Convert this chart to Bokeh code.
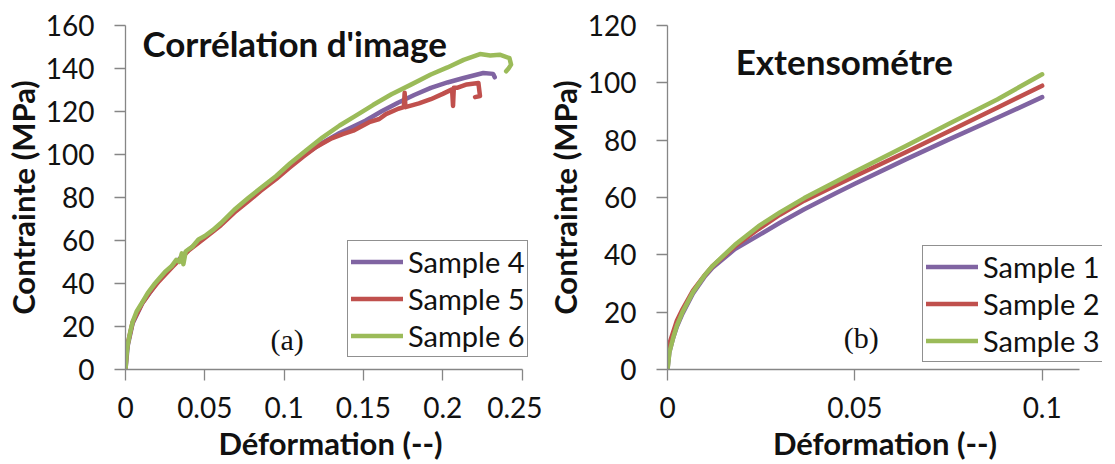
from bokeh.plotting import figure
from bokeh.models import Range1d, FixedTicker, Legend, LegendItem, Label
from bokeh.layouts import row
from bokeh.embed import file_html
from bokeh.resources import INLINE

# ---------------- data: panel (a) Corrélation d'image ----------------
s4_x = [0, 0.0014, 0.0045, 0.0107, 0.021, 0.03, 0.04, 0.05, 0.06, 0.0686, 0.077,
        0.0851, 0.095, 0.1037, 0.114, 0.1243, 0.135, 0.1512, 0.1618, 0.1718, 0.182,
        0.1925, 0.203, 0.2132, 0.2256, 0.2318, 0.2328]
s4_y = [0, 11, 21.5, 31, 41.5, 48.5, 55.8, 61.5, 67.5, 73.6, 78.8,
        83.6, 89.3, 95, 100.5, 105.5, 110, 115.7, 120.2, 124.1, 127.7,
        131, 133.5, 135.6, 137.9, 137.5, 135.9]

s5_x = [0, 0.0006, 0.0014, 0.0045, 0.0107, 0.015, 0.021, 0.03, 0.04, 0.05, 0.06,
        0.0686, 0.077, 0.0851, 0.095, 0.1037, 0.112, 0.1202, 0.13, 0.137, 0.1436,
        0.1542, 0.16, 0.1642, 0.172, 0.1755, 0.176, 0.1765, 0.185, 0.1925, 0.2,
        0.2059, 0.2065, 0.207, 0.209, 0.2152, 0.2225, 0.2235, 0.2204]
s5_y = [0, 8, 12, 22, 31, 35.5, 41, 48, 55.5, 61.2, 67,
        73, 78, 83, 88.6, 94, 99, 103.5, 107.5, 109.5, 111.1,
        115.2, 116.5, 118.8, 121.3, 122, 128.7, 122, 123.8, 125.7, 128.2,
        130.3, 122.6, 131, 131, 132.6, 133.3, 127.2, 126.7]

s6_x = [0, 0.0007, 0.0014, 0.003, 0.0045, 0.007, 0.0107, 0.014, 0.018, 0.021,
        0.025, 0.029, 0.032, 0.034, 0.0355, 0.0365, 0.038, 0.042, 0.046, 0.05,
        0.055, 0.06, 0.0686, 0.077, 0.0851, 0.095, 0.1037, 0.114, 0.1243, 0.135,
        0.145, 0.156, 0.1677, 0.18, 0.1925, 0.203, 0.2132, 0.2235, 0.23, 0.2359,
        0.2421, 0.2431, 0.2415, 0.24]
s6_y = [0, 7, 11.5, 17.5, 22.2, 27, 31.4, 35.5, 39.5, 42.1,
        45.5, 48, 51, 50, 54, 49, 55, 57, 60.5, 62.1,
        64.8, 68, 74.3, 79.5, 84.3, 90, 95.8, 102, 108, 113.5,
        118, 123, 128, 132.5, 137.2, 140.5, 144, 146.7, 146, 146.4,
        144.8, 141.8, 140, 138.7]

# ---------------- data: panel (b) Extensométre ----------------
ext_x = [0, 0.0005, 0.0015, 0.0025, 0.004, 0.0068, 0.01, 0.012, 0.018, 0.0243,
         0.03, 0.0365, 0.045, 0.05, 0.0636, 0.075, 0.088, 0.1]
s1_y = [0, 6, 11, 15, 19.5, 26.5, 32.5, 35.5, 42, 46.8,
        51.2, 55.9, 61.6, 64.8, 73.3, 80.2, 87.8, 95]
s2_y = [6, 9, 13, 17, 21, 27.5, 33, 36, 43, 49,
        54, 58.9, 64.3, 67.4, 75.8, 83, 91.3, 99]
s3_y = [0, 6, 11, 15.3, 20, 27, 33, 36.1, 43.5, 50,
        54.8, 59.8, 65.6, 69, 78, 85.6, 94.2, 103]

a_xticks = [0, 0.05, 0.1, 0.15, 0.2, 0.25]
a_xlabels = ["0", "0.05", "0.1", "0.15", "0.2", "0.25"]
a_yticks = [0, 20, 40, 60, 80, 100, 120, 140, 160]
b_xticks = [0, 0.05, 0.1]
b_xlabels = ["0", "0.05", "0.1"]
b_yticks = [0, 20, 40, 60, 80, 100, 120]

names_a = ["Sample 4", "Sample 5", "Sample 6"]
names_b = ["Sample 1", "Sample 2", "Sample 3"]
colors = ["#8064A2", "#C0504D", "#9BBB59"]

FONT = "Lato"
AX = "#868686"
TXT = "#111111"


def style(p, xticks, xlabels, yticks):
    p.xaxis.ticker = FixedTicker(ticks=xticks)
    p.xaxis.major_label_overrides = {t: l for t, l in zip(xticks, xlabels)}
    p.yaxis.ticker = FixedTicker(ticks=yticks)
    p.xgrid.visible = False
    p.ygrid.visible = False
    p.outline_line_color = None
    for ax in (p.xaxis, p.yaxis):
        ax.axis_line_color = AX
        ax.axis_line_width = 1.3
        ax.major_tick_line_color = AX
        ax.major_tick_line_width = 1.3
        ax.major_tick_out = 11
        ax.major_tick_in = 0
        ax.minor_tick_line_color = None
        ax.major_label_text_font = FONT
        ax.major_label_text_font_size = "28px"
        ax.major_label_text_color = TXT
        ax.axis_label_text_font = FONT
        ax.axis_label_text_font_style = "bold"
        ax.axis_label_text_font_size = "31px"
        ax.axis_label_text_color = TXT
    p.xaxis.major_label_standoff = 16
    p.yaxis.major_label_standoff = 20
    p.xaxis.axis_label_standoff = 3
    p.yaxis.axis_label_standoff = 1
    p.xaxis.axis_label = "Déformation (--)"
    p.yaxis.axis_label = "Contrainte (MPa)"


def make_legend(names, rends, loc):
    return Legend(items=[LegendItem(label=n, renderers=[r]) for n, r in zip(names, rends)],
                  location=loc, glyph_width=52, glyph_height=35, label_height=35,
                  spacing=2, padding=3, margin=0, label_standoff=5,
                  label_text_font=FONT, label_text_font_size="29px",
                  label_text_color=TXT,
                  border_line_color="#222222", border_line_width=1.5,
                  background_fill_color="white", background_fill_alpha=1)


# ---------------- panel (a) ----------------
pa = figure(width=542, height=464, output_backend="svg", toolbar_location=None,
            x_range=Range1d(0, 0.2585), y_range=Range1d(0, 160),
            min_border_left=118, min_border_right=7, min_border_top=22,
            min_border_bottom=94)
style(pa, a_xticks, a_xlabels, a_yticks)
pa.xaxis.bounds = (0, 0.25)
ra = []
for xs, ys, c in zip([s4_x, s5_x, s6_x], [s4_y, s5_y, s6_y], colors):
    ra.append(pa.line(xs, ys, line_color=c, line_width=4.5, line_join="round",
                      line_cap="round"))
pa.add_layout(make_legend(names_a, ra, (222, 12)), "center")
pa.add_layout(Label(x=0.0107, y=151.7, text="Corrélation d'image", text_font=FONT,
                    text_font_style="bold", text_font_size="35px",
                    text_color=TXT, text_baseline="alphabetic"))
pa.add_layout(Label(x=0.1019, y=13.8, text="(a)", text_font="Liberation Serif",
                    text_font_size="30px", text_color=TXT,
                    text_align="center", text_baseline="middle"))

# ---------------- panel (b) ----------------
pb = figure(width=560, height=464, output_backend="svg", toolbar_location=None,
            x_range=Range1d(0, 0.1161), y_range=Range1d(0, 120),
            min_border_left=117, min_border_right=0, min_border_top=25,
            min_border_bottom=93)
style(pb, b_xticks, b_xlabels, b_yticks)
pb.xaxis.bounds = (0, 0.11)
rb = []
for ys, c in zip([s1_y, s2_y, s3_y], colors):
    rb.append(pb.line(ext_x, ys, line_color=c, line_width=4.5, line_join="round",
                      line_cap="round"))
pb.add_layout(make_legend(names_b, rb, (255, 7)), "center")
pb.add_layout(Label(x=0.0182, y=107.6, text="Extensométre", text_font=FONT,
                    text_font_style="bold", text_font_size="35px",
                    text_color=TXT, text_baseline="alphabetic"))
pb.add_layout(Label(x=0.0517, y=11.2, text="(b)", text_font="Liberation Serif",
                    text_font_size="30px", text_color=TXT,
                    text_align="center", text_baseline="middle"))

layout = row(pa, pb)
open("out.html", "w").write(file_html(layout, INLINE))
